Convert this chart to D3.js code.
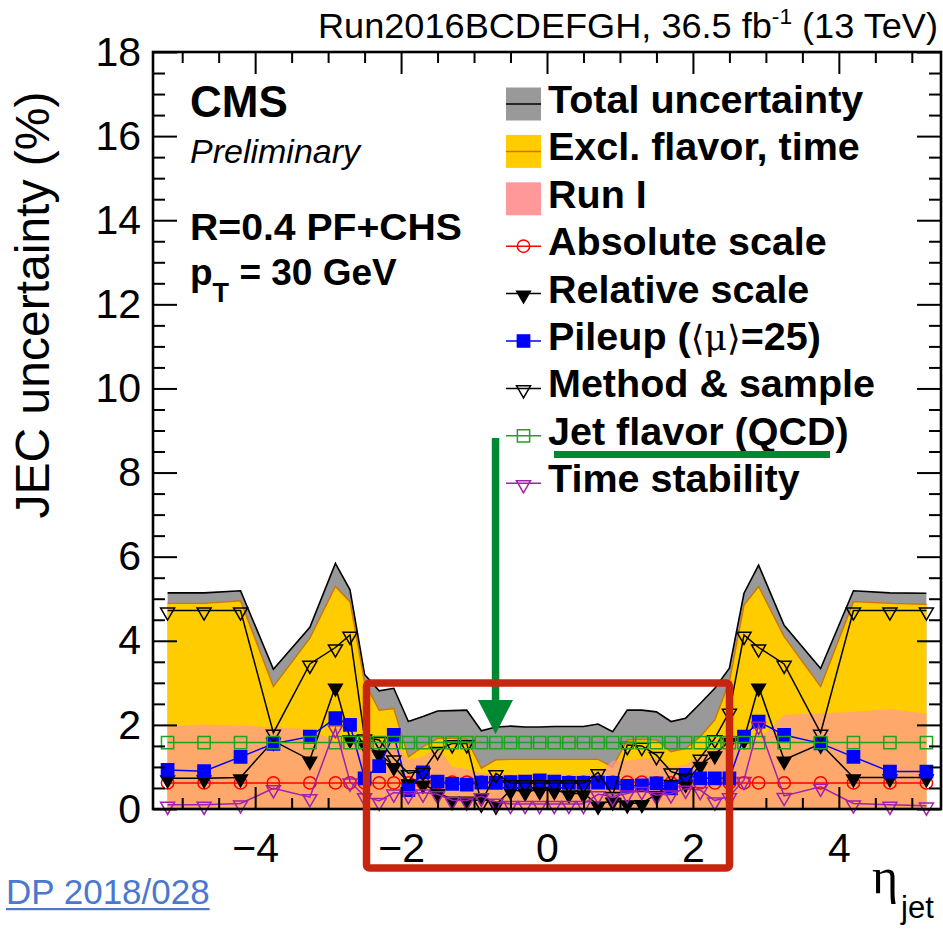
<!DOCTYPE html>
<html>
<head>
<meta charset="utf-8">
<script src="https://cdn.jsdelivr.net/npm/d3@7"></script>
<style>
  html, body { margin: 0; padding: 0; background: #fff; }
  svg { display: block; }
  text { font-family: "Liberation Sans", Arial, Helvetica, sans-serif; }
</style>
</head>
<body>
<svg id="chart" width="943" height="930"></svg>
<script>
// Jet energy correction uncertainty vs. jet pseudorapidity, pT = 30 GeV
const eta = [-5.2, -4.7, -4.2, -3.75, -3.25, -2.9, -2.7, -2.5,
  -2.3, -2.1, -1.9, -1.7, -1.5, -1.3, -1.1, -0.9, -0.7, -0.5, -0.3, -0.1,
  0.1, 0.3, 0.5, 0.7, 0.9, 1.1, 1.3, 1.5, 1.7, 1.9,
  2.1, 2.3, 2.5, 2.7, 2.9, 3.25, 3.75, 4.2, 4.7, 5.2];

const totalUnc = [5.14, 5.14, 5.19, 3.32, 4.32, 5.84, 5.21, 3.2,
  2.81, 2.87, 2.08, 2.2, 2.33, 2.34, 2.35, 1.86, 1.95, 1.97, 1.95, 1.95,
  1.96, 1.96, 1.96, 2.02, 1.84, 2.35, 2.35, 2.31, 2.08, 2.16,
  2.51, 2.87, 3.35, 5.13, 5.8, 4.37, 3.34, 5.19, 5.14, 5.13];

const exclFlavorTime = [4.89, 4.89, 4.95, 2.91, 4.06, 5.29, 4.93, 3.0,
  2.35, 2.39, 1.24, 1.48, 1.68, 1.68, 1.66, 0.97, 1.17, 1.18, 1.18, 1.18,
  1.18, 1.18, 1.18, 1.18, 1.0, 1.64, 1.66, 1.64, 1.36, 1.44,
  1.72, 2.12, 3.03, 4.85, 5.29, 4.1, 2.91, 4.93, 4.89, 4.87];

const runI = [1.96, 2.01, 1.98, 1.94, 1.9, 1.6, 1.5, 1.6,
  1.6, 1.6, 1.17, 1.24, 1.47, 1.0, 0.95, 0.85, 0.85, 0.82, 0.82, 0.82,
  0.82, 0.82, 0.82, 0.85, 1.15, 1.15, 1.2, 1.2, 1.0, 1.05,
  1.3, 1.4, 1.55, 1.7, 1.64, 2.24, 2.27, 2.31, 2.37, 2.27];

const absoluteScale = [0.62, 0.62, 0.62, 0.62, 0.62, 0.62, 0.62, 0.62,
  0.62, 0.62, 0.62, 0.62, 0.62, 0.64, 0.64, 0.64, 0.64, 0.64, 0.64, 0.64,
  0.64, 0.64, 0.64, 0.64, 0.64, 0.64, 0.64, 0.62, 0.62, 0.62,
  0.62, 0.62, 0.62, 0.62, 0.62, 0.62, 0.62, 0.62, 0.62, 0.62];

const relativeScale = [0.73, 0.73, 0.75, 1.62, 1.17, 2.91, 1.68, 1.55,
  1.32, 1.02, 0.63, 0.6, 0.4, 0.22, 0.22, 0.3, 0.1, 0.45, 0.42, 0.45,
  0.45, 0.37, 0.37, 0.1, 0.2, 0.13, 0.14, 0.35, 0.62, 0.62,
  1.05, 1.3, 1.62, 1.66, 2.91, 1.17, 1.55, 0.75, 0.75, 0.75];

const pileup = [0.93, 0.9, 1.24, 1.55, 1.72, 2.16, 2.0, 0.73,
  1.02, 1.76, 0.45, 0.87, 0.65, 0.6, 0.58, 0.63, 0.62, 0.64, 0.65, 0.68,
  0.65, 0.62, 0.62, 0.63, 0.62, 0.55, 0.56, 0.61, 0.49, 0.81,
  0.73, 0.73, 0.73, 1.72, 2.08, 1.76, 1.56, 1.24, 0.89, 0.89];

const methodSample = [4.72, 4.72, 4.72, 1.81, 3.45, 3.84, 4.14, 1.7,
  1.64, 1.2, 0.85, 0.9, 1.4, 1.56, 1.56, 0.15, 0.85, 0.61, 0.61, 0.61,
  0.61, 0.61, 0.61, 0.87, 0.33, 1.52, 1.5, 1.28, 0.89, 0.77,
  1.22, 1.68, 2.31, 4.14, 3.84, 3.45, 1.81, 4.72, 4.72, 4.72];

const jetFlavor = [1.58, 1.58, 1.58, 1.58, 1.58, 1.58, 1.58, 1.58,
  1.58, 1.58, 1.58, 1.58, 1.58, 1.58, 1.58, 1.58, 1.58, 1.58, 1.58, 1.58,
  1.58, 1.58, 1.58, 1.58, 1.58, 1.58, 1.58, 1.58, 1.58, 1.58,
  1.58, 1.58, 1.58, 1.58, 1.58, 1.58, 1.58, 1.58, 1.58, 1.58];

const timeStability = [0.1, 0.1, 0.13, 0.49, 0.28, 1.92, 0.65, 0.3,
  0.19, 0.39, 0.35, 0.39, 0.35, 0.21, 0.2, 0.3, 0.17, 0.12, 0.12, 0.12,
  0.12, 0.12, 0.12, 0.35, 0.3, 0.37, 0.45, 0.33, 0.37, 0.48,
  0.45, 0.2, 0.3, 0.69, 2.0, 0.31, 0.53, 0.13, 0.1, 0.08];

const yTickValues = [0, 2, 4, 6, 8, 10, 12, 14, 16, 18];
const xTickValues = [-4, -2, 0, 2, 4];

const svg = d3.select("#chart");
const x = d3.scaleLinear().domain([-5.4, 5.4]).range([153, 941]);
const y = d3.scaleLinear().domain([0, 18]).range([809, 52]);

// ---- filled bands ----
const band = vals => d3.area()
  .x((d, i) => x(eta[i])).y0(y(0)).y1((d, i) => y(vals[i]))(vals);
const edge = vals => d3.line()
  .x((d, i) => x(eta[i])).y((d, i) => y(vals[i]))(vals);

svg.append("path").attr("d", band(totalUnc)).attr("fill", "#999999");
svg.append("path").attr("d", edge(totalUnc)).attr("fill", "none")
  .attr("stroke", "#000").attr("stroke-width", 1.6);
svg.append("path").attr("d", band(exclFlavorTime)).attr("fill", "#ffcc00");
svg.append("path").attr("d", edge(exclFlavorTime)).attr("fill", "none")
  .attr("stroke", "#cc7700").attr("stroke-width", 1.4);
svg.append("path").attr("d", band(runI)).attr("fill", "#ff9999").attr("opacity", 0.7);

// ---- component curves ----
const series = [
  { vals: absoluteScale, color: "#ff0000", shape: d3.symbolCircle, size: 120, rot: 0, filled: false },
  { vals: relativeScale, color: "#000000", shape: d3.symbolTriangle, size: 80, rot: 180, filled: true },
  { vals: pileup, color: "#0000ff", shape: d3.symbolSquare, size: 150, rot: 0, filled: true },
  { vals: methodSample, color: "#000000", shape: d3.symbolTriangle, size: 85, rot: 180, filled: false },
  { vals: jetFlavor, color: "#22a022", shape: d3.symbolSquare, size: 150, rot: 0, filled: false },
  { vals: timeStability, color: "#a020b0", shape: d3.symbolTriangle, size: 85, rot: 180, filled: false }
];

series.forEach(s => {
  const g = svg.append("g");
  g.append("path").attr("d", edge(s.vals)).attr("fill", "none")
    .attr("stroke", s.color).attr("stroke-width", 1.5);
  const path = d3.symbol().type(s.shape).size(s.size)();
  g.selectAll("path.m").data(s.vals).join("path").attr("class", "m")
    .attr("d", path)
    .attr("transform", (d, i) => `translate(${x(eta[i])},${y(d)}) rotate(${s.rot}) ${s.rot ? "translate(0,-1.5)" : ""}`)
    .attr("fill", s.filled ? s.color : "none")
    .attr("stroke", s.color).attr("stroke-width", 1.5);
});

// ---- frame and axes ----
const styleAxis = g => {
  g.select(".domain").remove();
  g.selectAll(".tick line").attr("stroke", "#000").attr("stroke-width", 2);
};
const minorX = d3.range(-5.0, 5.01, 0.5).filter(v => Math.abs(v % 2) > 1e-6);
const minorY = d3.range(0.5, 18, 0.5).filter(v => Math.abs(v % 2) > 1e-6);

svg.append("g").attr("transform", "translate(0,809)")
  .call(d3.axisBottom(x).tickValues(xTickValues).tickSize(-22).tickPadding(24)
    .tickFormat(d => d < 0 ? "\u2212" + Math.abs(d) : d))
  .call(styleAxis)
  .call(g => g.selectAll("text").attr("font-size", 41).attr("fill", "#000")
    .attr("font-family", "Liberation Sans, Arial, sans-serif"));
svg.append("g").attr("transform", "translate(0,809)")
  .call(d3.axisBottom(x).tickValues(minorX).tickSize(-11).tickFormat(""))
  .call(styleAxis);
svg.append("g").attr("transform", "translate(0,52)")
  .call(d3.axisTop(x).tickValues(xTickValues).tickSize(-22).tickFormat(""))
  .call(styleAxis);
svg.append("g").attr("transform", "translate(0,52)")
  .call(d3.axisTop(x).tickValues(minorX).tickSize(-11).tickFormat(""))
  .call(styleAxis);

svg.append("g").attr("transform", "translate(153,0)")
  .call(d3.axisLeft(y).tickValues(yTickValues).tickSize(-24).tickPadding(12))
  .call(styleAxis)
  .call(g => g.selectAll("text").attr("font-size", 41).attr("fill", "#000")
    .attr("font-family", "Liberation Sans, Arial, sans-serif"));
svg.append("g").attr("transform", "translate(153,0)")
  .call(d3.axisLeft(y).tickValues(minorY).tickSize(-12).tickFormat(""))
  .call(styleAxis);
svg.append("g").attr("transform", "translate(941,0)")
  .call(d3.axisRight(y).tickValues(yTickValues).tickSize(-24).tickFormat(""))
  .call(styleAxis);
svg.append("g").attr("transform", "translate(941,0)")
  .call(d3.axisRight(y).tickValues(minorY).tickSize(-12).tickFormat(""))
  .call(styleAxis);

svg.append("rect").attr("x", 153).attr("y", 52).attr("width", 788).attr("height", 757)
  .attr("fill", "none").attr("stroke", "#000").attr("stroke-width", 2.6);

// ---- axis titles ----
svg.append("text").attr("transform", "translate(49,305) rotate(-90)")
  .attr("text-anchor", "middle").attr("font-size", 48).text("JEC uncertainty (%)");

const xt = svg.append("text").attr("x", 872).attr("y", 893);
xt.append("tspan").attr("font-family", "Liberation Serif, DejaVu Serif, serif")
  .attr("font-size", 50).text("\u03b7");
xt.append("tspan").attr("x", 901).attr("y", 918).attr("font-size", 31).text("jet");

// ---- title ----
const title = svg.append("text").attr("x", 318).attr("y", 38)
  .attr("font-size", 35).attr("textLength", 620).attr("lengthAdjust", "spacingAndGlyphs");
title.append("tspan").text("Run2016BCDEFGH, 36.5 fb");
title.append("tspan").attr("dy", -14).attr("font-size", 22).text("-1");
title.append("tspan").attr("dy", 14).text(" (13 TeV)");

// ---- CMS label block ----
svg.append("text").attr("x", 190).attr("y", 117).attr("font-size", 44)
  .attr("font-weight", "bold").text("CMS");
svg.append("text").attr("x", 190).attr("y", 163).attr("font-size", 34)
  .attr("font-style", "italic").text("Preliminary");
svg.append("text").attr("x", 190).attr("y", 240).attr("font-size", 37)
  .attr("font-weight", "bold").attr("textLength", 272).attr("lengthAdjust", "spacingAndGlyphs")
  .text("R=0.4 PF+CHS");
const pt = svg.append("text").attr("x", 190).attr("y", 285).attr("font-size", 37)
  .attr("font-weight", "bold");
pt.append("tspan").text("p");
pt.append("tspan").attr("dy", 17).attr("font-size", 27).text("T");
pt.append("tspan").attr("dy", -17).text(" = 30 GeV");

// ---- legend ----
const legX0 = 506, legX1 = 541, legTextX = 548;
const rowY = i => 104 + i * 47.4;
const leg = svg.append("g");
const boxes = [
  { fill: "#999999", line: "#000" },
  { fill: "#ffcc00", line: "#cc7700" },
  { fill: "#ff9999", line: null }
];
boxes.forEach((b, i) => {
  leg.append("rect").attr("x", legX0).attr("y", rowY(i) - 16.5)
    .attr("width", legX1 - legX0).attr("height", 33).attr("fill", b.fill);
  if (b.line) leg.append("line").attr("x1", legX0).attr("x2", legX1)
    .attr("y1", rowY(i)).attr("y2", rowY(i)).attr("stroke", b.line).attr("stroke-width", 1.5);
});
series.forEach((s, k) => {
  const i = k + 3;
  leg.append("line").attr("x1", legX0).attr("x2", legX1)
    .attr("y1", rowY(i)).attr("y2", rowY(i)).attr("stroke", s.color).attr("stroke-width", 1.5);
  leg.append("path").attr("d", d3.symbol().type(s.shape).size(s.size)())
    .attr("transform", `translate(${(legX0 + legX1) / 2},${rowY(i)}) rotate(${s.rot}) ${s.rot ? "translate(0,-1.5)" : ""}`)
    .attr("fill", s.filled ? s.color : "none").attr("stroke", s.color).attr("stroke-width", 1.5);
});
const labels = ["Total uncertainty", "Excl. flavor, time", "Run I", "Absolute scale",
  "Relative scale", null, "Method & sample", "Jet flavor (QCD)", "Time stability"];
labels.forEach((t, i) => {
  const tx = leg.append("text").attr("x", legTextX).attr("y", rowY(i) + 9)
    .attr("font-size", 39.5).attr("font-weight", "bold");
  if (t !== null) { tx.text(t); return; }
  tx.append("tspan").text("Pileup (");
  tx.append("tspan").attr("font-weight", "normal")
    .attr("font-family", "DejaVu Serif, Liberation Serif, serif").attr("font-size", 35)
    .text("\u27e8\u03bc\u27e9");
  tx.append("tspan").text("=25)");
});

// ---- annotations ----
const green = "#008732";
svg.append("rect").attr("x", 554).attr("y", 451).attr("width", 276).attr("height", 7).attr("fill", green);
svg.append("rect").attr("x", 491.8).attr("y", 438).attr("width", 7.5).attr("height", 266).attr("fill", green);
svg.append("path").attr("d", "M478,700 L513,700 L495.6,734 Z").attr("fill", green);
svg.append("rect").attr("x", 366.5).attr("y", 683).attr("width", 363).attr("height", 185)
  .attr("fill", "none").attr("stroke", "#c8250f").attr("stroke-width", 7.5).attr("rx", 3);

// ---- reference note ----
const dp = svg.append("text").attr("x", 6).attr("y", 904).attr("font-size", 35)
  .attr("fill", "#4a78d0").text("DP 2018/028");
const dpw = dp.node().getComputedTextLength();
svg.append("rect").attr("x", 6).attr("y", 908).attr("width", dpw).attr("height", 2.2).attr("fill", "#4a78d0");
</script>
</body>
</html>
